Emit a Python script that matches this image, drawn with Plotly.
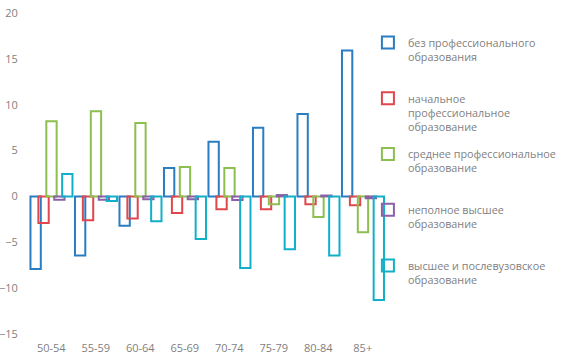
import plotly.graph_objects as go

categories = ["50-54", "55-59", "60-64", "65-69", "70-74", "75-79", "80-84", "85+"]

series_names = [
    "без профессионального<br>образования<br>\u00a0",
    "начальное<br>профессиональное<br>образование",
    "среднее профессиональное<br>образование<br>\u00a0",
    "неполное высшее<br>образование<br>\u00a0",
    "высшее и послевузовское<br>образование<br>\u00a0",
]

bez_prof = [-7.9, -6.45, -3.2, 3.1, 5.95, 7.5, 9.0, 15.9]
nachalnoe = [-2.9, -2.6, -2.4, -1.8, -1.4, -1.4, -0.85, -0.95]
srednee = [8.2, 9.3, 8.0, 3.2, 3.1, -0.85, -2.25, -3.9]
nepolnoe = [-0.35, -0.35, -0.3, -0.3, -0.4, 0.15, 0.1, -0.2]
vysshee = [2.45, -0.5, -2.7, -4.65, -7.8, -5.75, -6.45, -11.3]

series_values = [bez_prof, nachalnoe, srednee, nepolnoe, vysshee]
colors = ["#2A7DC0", "#E0474C", "#8CBE50", "#8C60A8", "#12B0C8"]
offsets = [-0.467, -0.289, -0.111, 0.067, 0.245]
bar_width = 0.232

fig = go.Figure()
for i, (name, vals) in enumerate(zip(series_names, series_values)):
    fig.add_trace(go.Bar(
        x=categories, y=vals, name=name,
        offset=offsets[i], width=bar_width,
        marker=dict(color="rgba(0,0,0,0)", line=dict(color=colors[i], width=2)),
        legendgroup="g%d" % i,
    ))

font_family = "Open Sans"
gray = "#7f7f7f"
fig.update_layout(
    width=565, height=359,
    margin=dict(l=29, r=180, t=13, b=25, autoexpand=False),
    barmode="overlay",
    hovermode=False,
    plot_bgcolor="white", paper_bgcolor="white",
    font=dict(family=font_family, size=11, color=gray),
    showlegend=True,
    legend=dict(
        x=0.952, xanchor="left", y=0.95, yanchor="top",
        bgcolor="rgba(0,0,0,0)", font=dict(size=10.8, color=gray),
        valign="top", tracegroupgap=10.6,
    ),
    xaxis=dict(type="category", range=[-0.5, 7.5], showgrid=False, zeroline=False,
               showline=False, ticks="outside", ticklen=4, tickcolor="rgba(0,0,0,0)",
               tickfont=dict(size=11, color=gray), automargin=False),
    yaxis=dict(range=[-15, 20], dtick=5, tick0=0, showgrid=False, zeroline=False,
               showline=False, ticks="outside", ticklen=8, tickcolor="rgba(0,0,0,0)",
               tickfont=dict(size=11, color=gray), automargin=False,
               ticklabeloverflow="allow"),
)

# remove the browser's default 8px body margin so the figure fills the window
fig.write_html("out.html", config={"displayModeBar": False},
               post_script="document.body.style.margin='0';")
